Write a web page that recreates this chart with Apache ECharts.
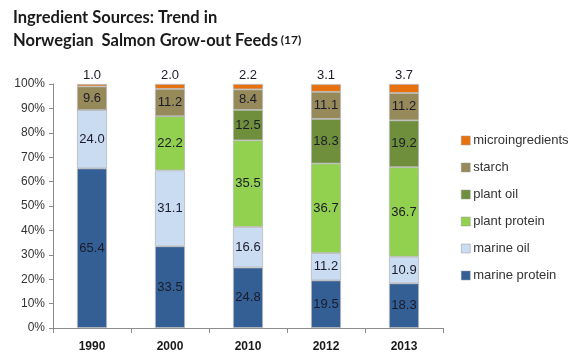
<!DOCTYPE html>
<html><head><meta charset="utf-8">
<script src="https://cdn.jsdelivr.net/npm/echarts@6/dist/echarts.min.js"></script>
<style>html,body{margin:0;padding:0;background:#fff}#c{width:582px;height:361px}</style>
</head><body><div id="c"></div>
<script>
const categories = ['1990','2000','2010','2012','2013'];
const marineProtein = [65.4, 33.5, 24.8, 19.5, 18.3];
const marineOil = [24.0, 31.1, 16.6, 11.2, 10.9];
const plantProtein = [0, 22.2, 35.5, 36.7, 36.7];
const plantOil = [0, 0, 12.5, 18.3, 19.2];
const starch = [9.6, 11.2, 8.4, 11.1, 11.2];
const microingredients = [1.0, 2.0, 2.2, 3.1, 3.7];
const yTicks = ['0%','10%','20%','30%','40%','50%','60%','70%','80%','90%','100%'];

const chart = echarts.init(document.getElementById('c'));
const lbl = {show:true, position:'inside', color:'#1b1b2a', fontSize:13, fontFamily:'Liberation Sans, Arial, sans-serif',
  formatter: p => p.value ? p.value.toFixed(1) : ''};
function s(name, data, color, extra){
  return Object.assign({name, type:'bar', stack:'t', data, barWidth:30,
    itemStyle:{color, borderColor:'#b8b8b8', borderWidth:0.8},
    label:lbl, emphasis:{disabled:true}}, extra||{});
}
chart.setOption({
  animation:false,
  title:{left:8, top:1, text:'{a|Ingredient Sources: Trend in}\n{a|Norwegian  Salmon Grow-out Feeds}{b| (17)}',
    textStyle:{rich:{a:{fontSize:16.5, fontWeight:'bold', color:'#1a1a1a', fontFamily:'Lato, sans-serif', lineHeight:23},
                     b:{fontSize:12, color:'#1a1a1a', fontFamily:'Lato, sans-serif', lineHeight:23}}}},
  legend:{orient:'vertical', left:456, top:129, itemGap:14, itemWidth:9, itemHeight:9, icon:'rect',
    data:['microingredients','starch','plant oil','plant protein','marine oil','marine protein'],
    textStyle:{fontSize:13, color:'#333', fontFamily:'Liberation Sans, Arial, sans-serif', padding:[0,0,0,-2]},
    itemStyle:{borderColor:'#999', borderWidth:0.5}},
  grid:{left:53, top:84, width:390, height:244},
  xAxis:{type:'category', data:categories,
    axisLine:{lineStyle:{color:'#8c8c8c'}}, axisTick:{show:true, length:5, lineStyle:{color:'#8c8c8c'}},
    axisLabel:{fontWeight:'bold', fontSize:12, color:'#1a1a1a', margin:13, fontFamily:'Liberation Sans, Arial, sans-serif'}},
  yAxis:{type:'value', min:0, max:100, interval:10,
    axisLine:{show:true, lineStyle:{color:'#8c8c8c'}}, axisTick:{show:true, length:4, lineStyle:{color:'#8c8c8c'}},
    splitLine:{show:false},
    axisLabel:{fontSize:12, color:'#333', margin:8, fontFamily:'Liberation Sans, Arial, sans-serif',
      formatter:(v)=>yTicks[Math.round(v/10)]}},
  series:[
    s('marine protein', marineProtein, '#335f94'),
    s('marine oil', marineOil, '#c9dcf2'),
    s('plant protein', plantProtein, '#92d050'),
    s('plant oil', plantOil, '#6f8f3c'),
    s('starch', starch, '#968a5a'),
    s('microingredients', microingredients, '#e8710f',
      {label:Object.assign({}, lbl, {position:'top', distance:2, formatter:p=>p.value.toFixed(1)})})
  ]
});
</script></body></html>
